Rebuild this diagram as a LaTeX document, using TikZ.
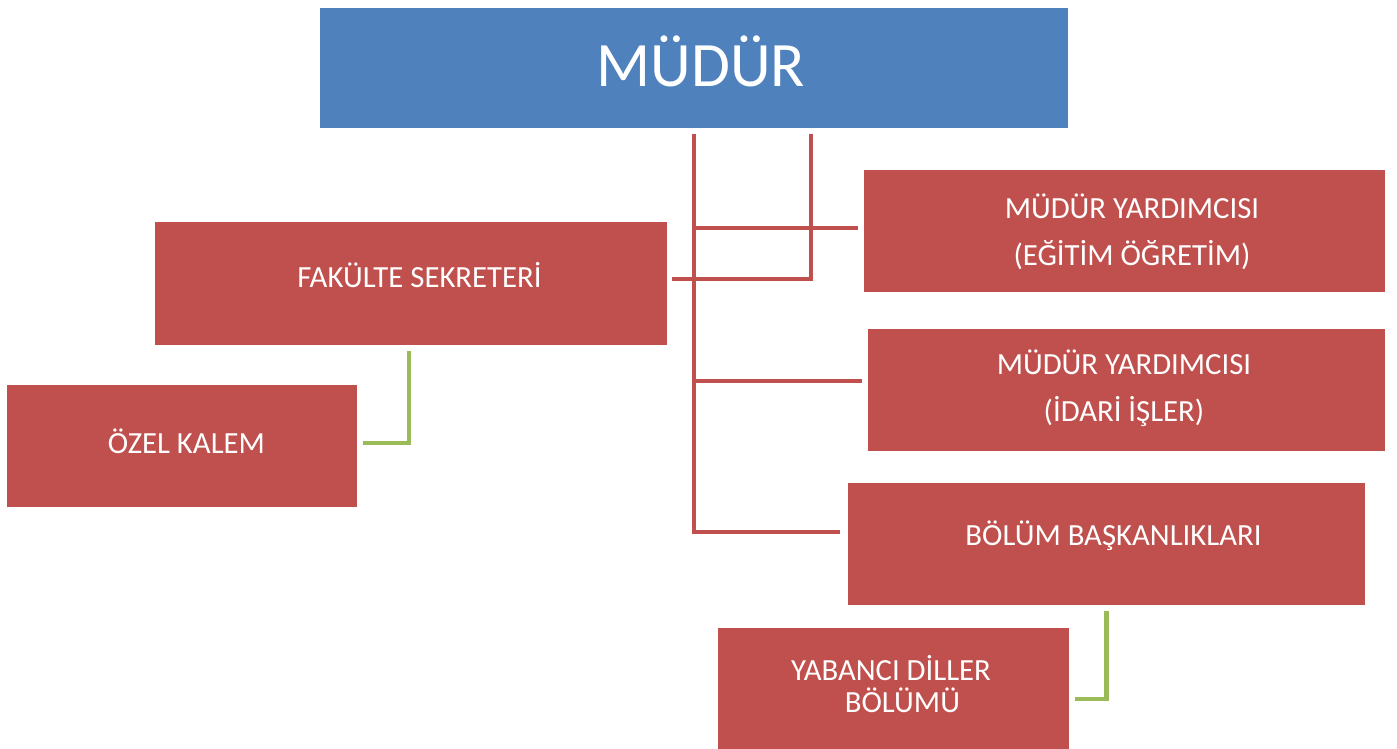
\documentclass[tikz,border=0pt]{standalone}
\usepackage{fontspec}
\setmainfont{Carlito}
\usetikzlibrary{calc}
\definecolor{orgblue}{HTML}{4F81BD}
\definecolor{orgred}{HTML}{C0504D}
\definecolor{orggreen}{HTML}{9BBB59}
\begin{document}
\begin{tikzpicture}[x=0.02cm, y=-0.02cm,
    redbox/.style={fill=orgred, inner sep=0pt},
    boxtext/.style={text=white, inner sep=0pt, anchor=base, align=center, font=\fontsize{17.5}{27}\selectfont},
    redline/.style={draw=orgred, line width=2.8pt},
    greenline/.style={draw=orggreen, line width=2.8pt}]
    \useasboundingbox (0,0) rectangle (1397,749);
    % Top box
    \node[fill=orgblue, inner sep=0pt, minimum width=14.96cm, minimum height=2.4cm] (mudur) at (694,68) {};
    \node[boxtext, font=\fontsize{36}{42}\selectfont] at (701,87) {MÜDÜR};
    
    % Second level (base = last line)
    \node[redbox, minimum width=10.42cm, minimum height=2.44cm] (myegitim) at (1124.5,231) {};
    \node[boxtext] at (1132,266) {MÜDÜR YARDIMCISI\\(EĞİTİM ÖĞRETİM)};
    
    \node[redbox, minimum width=10.24cm, minimum height=2.46cm] (faksek) at (411,283.5) {};
    \node[boxtext] at (419.5,288) {FAKÜLTE SEKRETERİ};
    
    \node[redbox, minimum width=10.34cm, minimum height=2.44cm] (myidari) at (1126.5,390) {};
    \node[boxtext] at (1124,422) {MÜDÜR YARDIMCISI\\(İDARİ İŞLER)};
    
    \node[redbox, minimum width=7cm, minimum height=2.44cm] (ozel) at (182,446) {};
    \node[boxtext] at (186.5,454) {ÖZEL KALEM};
    
    \node[redbox, minimum width=10.34cm, minimum height=2.44cm] (bolum) at (1106.5,544) {};
    \node[boxtext] at (1113.5,546) {BÖLÜM BAŞKANLIKLARI};
    
    \node[redbox, minimum width=7.02cm, minimum height=2.42cm] (yabanci) at (893.5,688.5) {};
    \node[boxtext, font=\fontsize{17.5}{18.7}\selectfont] at (891,713) {YABANCI DİLLER\\\hspace*{13pt}BÖLÜMÜ};
    
    % Connectors
    \coordinate (ea) at ($(myegitim.west)+(-6,-3)$);
    \coordinate (ia) at ($(myidari.west)+(-6,-9)$);
    \draw[redline] ($(mudur.south)+(0,6)$) |- ($(bolum.west)+(-8,-12)$);
    \draw[redline] (ea -| mudur.south) -- (ea);
    \draw[redline] (ia -| mudur.south) -- (ia);
    \draw[redline] ($(mudur.south)+(117,6)$) |- ($(faksek.east)+(5,-4.5)$);
    
    \draw[greenline] ($(faksek.south)+(-2,6)$) |- ($(ozel.east)+(6,-3)$);
    \draw[greenline] ($(bolum.south)+(0,6)$) |- ($(yabanci.east)+(6,10.5)$);
\end{tikzpicture}
\end{document}
